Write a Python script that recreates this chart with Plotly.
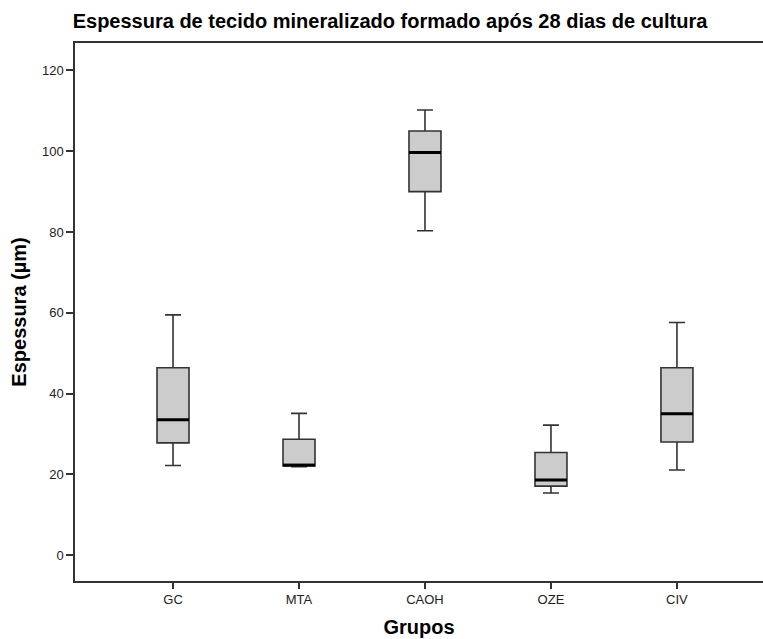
import plotly.graph_objects as go

# Summary statistics per group (µm)
grupos = ["GC", "MTA", "CAOH", "OZE", "CIV"]
minimo = [22.2, 21.9, 80.3, 15.4, 21.1]
q1 = [27.8, 22.1, 90.0, 17.1, 28.0]
mediana = [33.5, 22.3, 99.7, 18.6, 35.0]
q3 = [46.4, 28.7, 105.0, 25.4, 46.4]
maximo = [59.5, 35.1, 110.2, 32.2, 57.6]
y_ticks = [0, 20, 40, 60, 80, 100, 120]

BOX_W = 0.254
FONT = "Liberation Sans, Arial, sans-serif"
pos = list(range(len(grupos)))

fig = go.Figure()
fig.add_trace(go.Box(
    x=pos, q1=q1, median=mediana, q3=q3,
    lowerfence=minimo, upperfence=maximo,
    width=BOX_W, whiskerwidth=0.5,
    fillcolor="#cccccc",
    line=dict(color="#333333", width=1.6),
    boxpoints=False, showlegend=False, hoverinfo="skip",
))

# thicker median bars drawn over the boxes
mx, my = [], []
for p, m in zip(pos, mediana):
    mx += [p - BOX_W / 2, p + BOX_W / 2, None]
    my += [m, m, None]
fig.add_trace(go.Scatter(
    x=mx, y=my, mode="lines",
    line=dict(color="#000000", width=3),
    showlegend=False, hoverinfo="skip",
))

fig.update_layout(
    width=763, height=639,
    margin=dict(l=75, r=0, t=43, b=58),
    paper_bgcolor="white", plot_bgcolor="white",
    font=dict(family=FONT, color="#222222"),
    title=dict(
        text="<b>Espessura de tecido mineralizado formado após 28 dias de cultura</b>",
        x=390 / 763, xref="container", xanchor="center",
        y=1 - 21 / 639, yref="container", yanchor="middle",
        font=dict(size=20, color="#000000", family=FONT),
    ),
    xaxis=dict(
        range=[-0.778, 4.683],
        tickvals=pos, ticktext=grupos,
        ticks="outside", ticklen=6, tickwidth=1.5, tickcolor="#333333",
        tickfont=dict(size=13, color="#222222"),
        showline=True, linecolor="#333333", linewidth=1.5, mirror=True,
        showgrid=False, zeroline=False,
        title=dict(text="<b>Grupos</b>", font=dict(size=20, color="#000000"), standoff=14),
    ),
    yaxis=dict(
        range=[-6.4, 126.8],
        tickvals=y_ticks,
        ticks="outside", ticklen=7, tickwidth=1.5, tickcolor="#333333",
        tickfont=dict(size=13, color="#222222"),
        showline=True, linecolor="#333333", linewidth=1.5,
        showgrid=False, zeroline=False,
        title=dict(text="<b>Espessura (µm)</b>", font=dict(size=20, color="#000000"), standoff=10),
    ),
)

fig.write_html("out.html")
